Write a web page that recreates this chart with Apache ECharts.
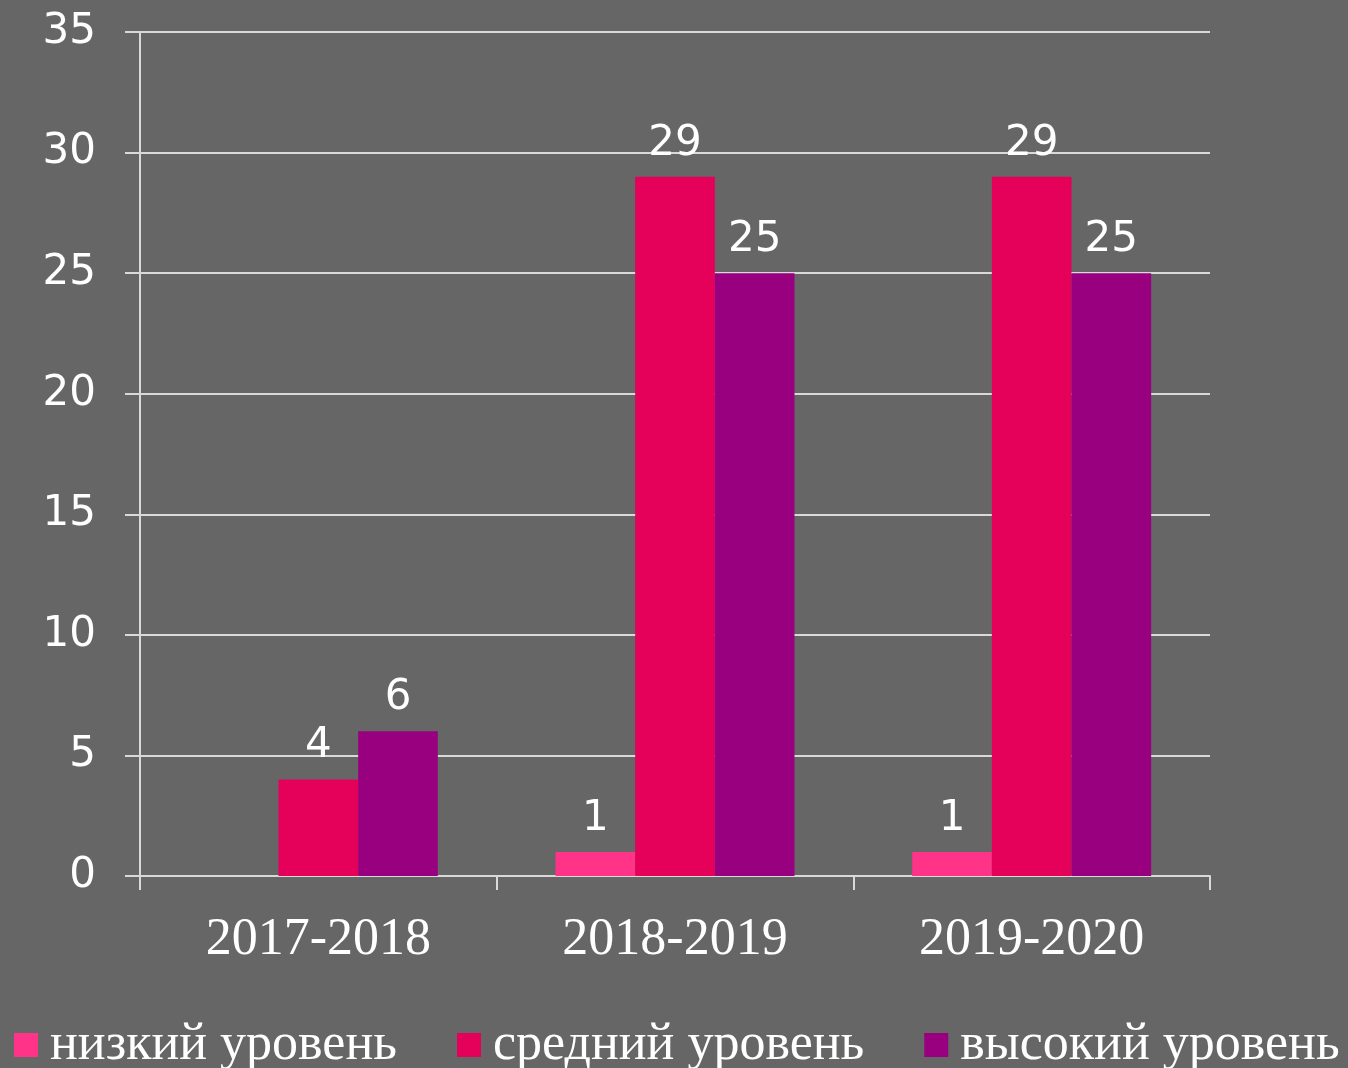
<!DOCTYPE html>
<html><head><meta charset="utf-8">
<style>html,body{margin:0;padding:0;background:#666666;}#c{width:1348px;height:1068px;}</style>
<script src="https://cdn.jsdelivr.net/npm/echarts@6/dist/echarts.min.js"></script>
</head><body><div id="c"></div>
<script>
var categories = ['2017-2018', '2018-2019', '2019-2020'];
var seriesNames = ['низкий уровень', 'средний уровень', 'высокий уровень'];
var low = [0, 1, 1];
var mid = [4, 29, 29];
var high = [6, 25, 25];
var colors = ['#FF3388', '#E5005A', '#990080'];

var chart = echarts.init(document.getElementById('c'));
function mk(name, data, color) {
  return {
    name: name, type: 'bar', data: data, barGap: '0%', barCategoryGap: '33%',
    itemStyle: {color: color},
    label: {show: true, position: 'top', distance: 12, color: '#fff',
      fontFamily: 'DejaVu Sans', fontSize: 42,
      formatter: function (p) { return p.value === 0 ? '' : p.value; }}
  };
}
chart.setOption({
  backgroundColor: '#666666',
  animation: false,
  grid: {left: 140, right: 138, top: 32, bottom: 192},
  legend: {
    top: 1019, left: 14, itemWidth: 24, itemHeight: 24, itemGap: 60,
    icon: 'rect', padding: 0,
    textStyle: {color: '#fff', fontFamily: 'Liberation Serif', fontSize: 52, padding: [0, 0, 0, 7]},
    data: seriesNames
  },
  xAxis: {
    type: 'category', data: categories,
    axisLine: {lineStyle: {color: '#D9D9D9', width: 2}},
    axisTick: {show: true, length: 14, lineStyle: {color: '#D9D9D9', width: 2}},
    axisLabel: {color: '#fff', fontFamily: 'Liberation Serif', fontSize: 52, margin: 38}
  },
  yAxis: {
    type: 'value', min: 0, max: 35, interval: 5,
    axisLine: {show: true, lineStyle: {color: '#D9D9D9', width: 2}},
    axisTick: {show: true, length: 15, lineStyle: {color: '#D9D9D9', width: 2}},
    splitLine: {lineStyle: {color: '#D9D9D9', width: 2}},
    axisLabel: {color: '#fff', fontFamily: 'DejaVu Sans', fontSize: 42, margin: 44}
  },
  series: [mk(seriesNames[0], low, colors[0]), mk(seriesNames[1], mid, colors[1]), mk(seriesNames[2], high, colors[2])]
});
</script></body></html>
